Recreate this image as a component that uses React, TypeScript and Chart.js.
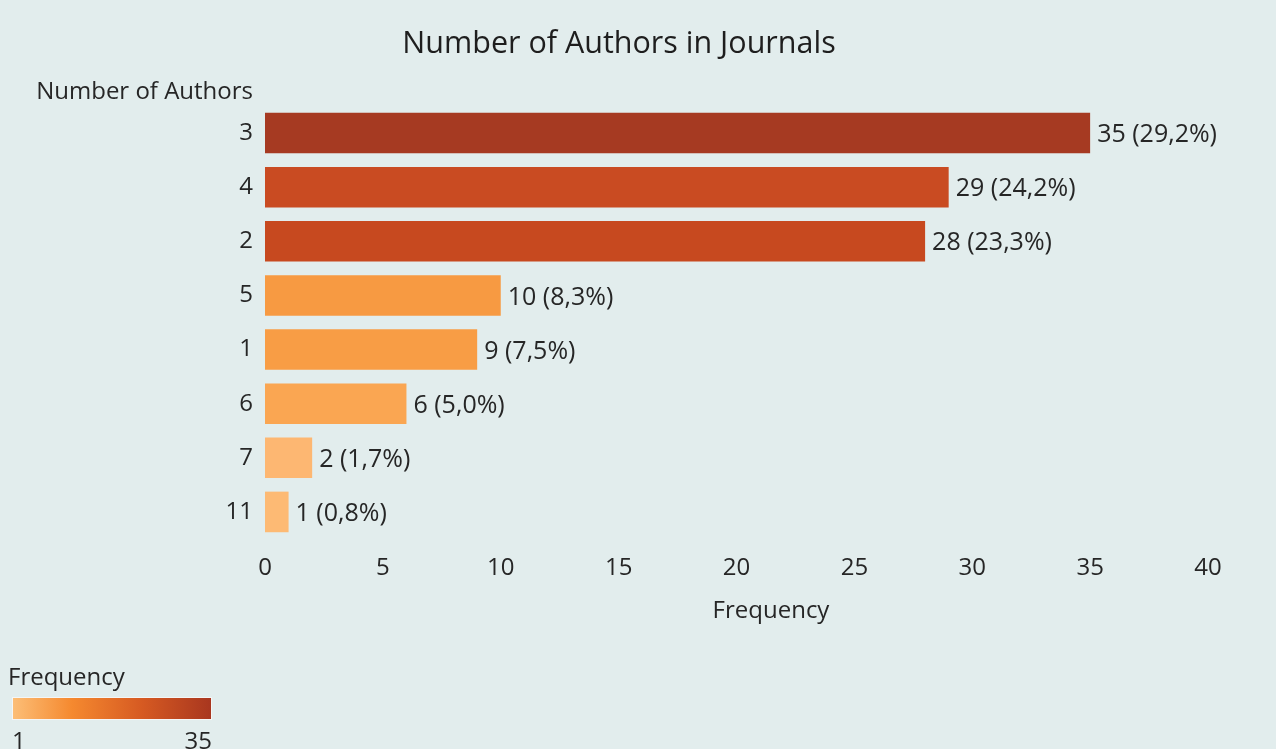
import React, { useEffect, useRef } from 'react';
import { Chart, registerables } from 'chart.js';

Chart.register(...registerables);

const chartTitle = 'Number of Authors in Journals';
const yAxisHeader = 'Number of Authors';
const xAxisTitle = 'Frequency';
const legendTitle = 'Frequency';
const categories = ['3', '4', '2', '5', '1', '6', '7', '11'];
const frequencies = [35, 29, 28, 10, 9, 6, 2, 1];
const percentLabels = ['29,2%', '24,2%', '23,3%', '8,3%', '7,5%', '5,0%', '1,7%', '0,8%'];
const xTicks = [0, 5, 10, 15, 20, 25, 30, 35, 40];
const legendRange = [1, 35];
const barColors = ['#a63a22', '#c94b22', '#c7491f', '#f79a42', '#f89d45', '#faa652', '#fdb772', '#fdba74'];

const FONT = '"Open Sans", "Noto Sans", sans-serif';
const BG = '#e2eded';
const TEXT = '#262626';

export default function App() {
  const ref = useRef<HTMLCanvasElement | null>(null);

  useEffect(() => {
    if (!ref.current) return;
    const textPlugin = {
      id: 'decor',
      beforeDraw(chart: any) {
        const { ctx, width, height } = chart;
        ctx.save();
        ctx.fillStyle = BG;
        ctx.fillRect(0, 0, width, height);
        ctx.restore();
      },
      afterDatasetsDraw(chart: any) {
        const { ctx } = chart;
        const meta = chart.getDatasetMeta(0);
        ctx.save();
        ctx.font = `25px ${FONT}`;
        ctx.fillStyle = TEXT;
        ctx.textAlign = 'left';
        ctx.textBaseline = 'middle';
        meta.data.forEach((bar: any, i: number) => {
          ctx.fillText(`${frequencies[i]} (${percentLabels[i]})`, bar.x + 7, bar.y + 2);
        });
        ctx.restore();
      },
      afterDraw(chart: any) {
        const { ctx } = chart;
        ctx.save();
        ctx.fillStyle = '#1e1e1e';
        ctx.textBaseline = 'middle';
        ctx.textAlign = 'center';
        ctx.font = `30.5px ${FONT}`;
        ctx.fillText(chartTitle, 619, 44);
        ctx.fillStyle = TEXT;
        ctx.font = `24px ${FONT}`;
        ctx.textAlign = 'right';
        ctx.fillText(yAxisHeader, 253, 92);
        ctx.textAlign = 'center';
        ctx.fillText(xAxisTitle, 771, 611);
        // legend
        ctx.textAlign = 'left';
        ctx.fillText(legendTitle, 8, 678);
        const gx = 12, gy = 697, gw = 200, gh = 23;
        const grad = ctx.createLinearGradient(gx, 0, gx + gw, 0);
        grad.addColorStop(0, '#fcbf78');
        grad.addColorStop(0.3, '#f5892f');
        grad.addColorStop(0.65, '#d65a22');
        grad.addColorStop(1, '#a8361f');
        ctx.fillStyle = grad;
        ctx.fillRect(gx, gy, gw, gh);
        ctx.strokeStyle = '#f4f6f6';
        ctx.lineWidth = 1;
        ctx.strokeRect(gx + 0.5, gy + 0.5, gw - 1, gh - 1);
        ctx.fillStyle = TEXT;
        ctx.textAlign = 'left';
        ctx.fillText(String(legendRange[0]), 12, 742);
        ctx.textAlign = 'right';
        ctx.fillText(String(legendRange[1]), 212, 742);
        ctx.restore();
      },
    };

    const chart = new Chart(ref.current, {
      type: 'bar',
      data: {
        labels: categories,
        datasets: [
          {
            data: frequencies,
            backgroundColor: barColors,
            borderWidth: 0,
            barPercentage: 0.75,
            categoryPercentage: 1,
          },
        ],
      },
      options: {
        indexAxis: 'y',
        responsive: false,
        animation: false,
        layout: { padding: { top: 106, right: 68, bottom: 0, left: 0 } },
        plugins: { legend: { display: false }, tooltip: { enabled: false }, title: { display: false } },
        scales: {
          x: {
            min: 0,
            max: 40,
            afterBuildTicks: (scale: any) => {
              scale.ticks = xTicks.map((v) => ({ value: v }));
            },
            afterFit: (scale: any) => {
              scale.height = 210;
            },
            grid: { display: false, drawTicks: false },
            border: { display: false },
            ticks: { color: TEXT, font: { family: FONT, size: 24 }, padding: 15, maxRotation: 0, autoSkip: false },
          },
          y: {
            afterFit: (scale: any) => {
              scale.width = 265;
            },
            grid: { display: false, drawTicks: false },
            border: { display: false },
            ticks: { color: TEXT, font: { family: FONT, size: 24 }, padding: 12, autoSkip: false },
          },
        },
      },
      plugins: [textPlugin],
    } as any);
    return () => chart.destroy();
  }, []);

  return (
    <div style={{ position: 'fixed', left: 0, top: 0, width: 1276, height: 749, background: BG }}>
      <canvas ref={ref} width={1276} height={749} style={{ display: 'block', width: 1276, height: 749 }} />
    </div>
  );
}
